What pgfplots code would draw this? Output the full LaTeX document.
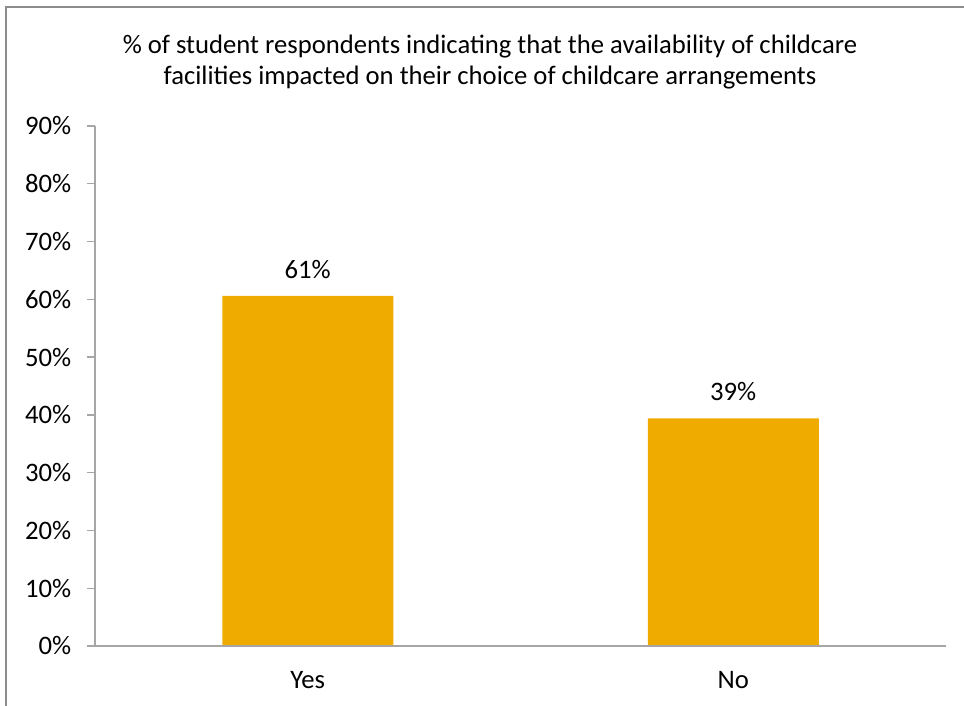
\documentclass[border=0pt]{standalone}
\usepackage{pgfplots}
\pgfplotsset{compat=1.18}
\usepackage{fontspec}
\setmainfont{Carlito}
\definecolor{bargold}{HTML}{F0AB00}
\definecolor{axgray}{HTML}{A6A6A6}
\definecolor{framegray}{HTML}{8C8C8C}
\begin{document}
\fontsize{20}{23.25}\selectfont
\begin{tikzpicture}
\path[use as bounding box] (0,0) rectangle (723pt,529.5pt);
\draw[framegray, line width=1.1pt] (4.5pt,0) -- (4.5pt,524.25pt) -- (723pt,524.25pt);
\node[align=center, font=\fontsize{20}{23.25}\selectfont] at (367.5pt,483pt)
  {\% of student respondents indicating that the availability of childcare\\facilities impacted on their choice of childcare arrangements};
\begin{axis}[
  at={(71.25pt,45pt)}, anchor=south west,
  scale only axis, width=638.25pt, height=390pt,
  xmin=-0.5, xmax=1.5, ymin=0, ymax=90,
  ytick={0,10,...,90},
  yticklabel={\pgfmathprintnumber{\tick}\%},
  /pgf/number format/assume math mode=true,
  xtick={0,1}, xticklabels={Yes,No},
  axis x line=bottom, axis y line=left,
  axis line style={axgray, line width=1pt, -},
  major tick length=6pt,
  ytick style={axgray, line width=1pt},
  tick align=outside,
  xtick style={draw=none},
  ticklabel style={font=\fontsize{20}{23}\selectfont, text=black},
  yticklabel style={xshift=-5pt},
  xticklabel style={yshift=-6pt},
  ybar, bar width=128.25pt,
  nodes near coords,
  point meta=explicit symbolic,
  every node near coord/.append style={font=\fontsize{20}{23}\selectfont, text=black, yshift=6pt},
  clip=false,
]
\addplot[fill=bargold, draw=none] coordinates {(0,60.6) [61\%] (1,39.4) [39\%]};
\draw[axgray, line width=1pt] ([xshift=-6pt]rel axis cs:0,0) -- (rel axis cs:1,0);
\end{axis}
\end{tikzpicture}
\end{document}
